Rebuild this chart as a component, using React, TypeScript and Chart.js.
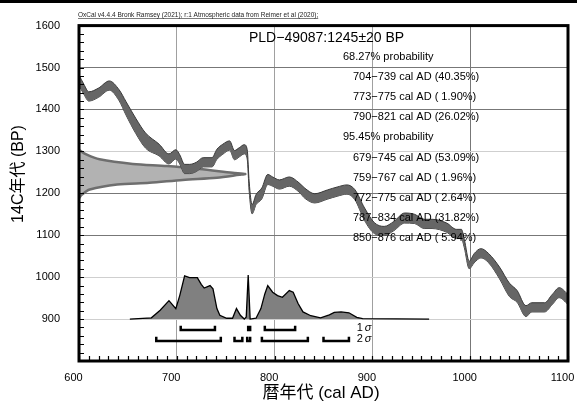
import React, { useEffect, useRef } from 'react';
import { Chart, registerables } from 'chart.js';
Chart.register(...registerables);

// Calibration curve (IntCal20) centre line
const curveYears = [600, 605, 610, 620, 631, 641, 648, 658, 668, 682, 692, 699, 703, 708, 713, 720, 727, 736, 741, 747, 754, 759, 764, 769, 772, 774, 777, 781, 787, 793, 798, 805, 815, 825, 831, 841, 854, 864, 874, 882, 892, 902, 912, 922, 933, 943, 953, 961, 976, 986, 991, 994, 999, 1004, 1011, 1019, 1030, 1040, 1048, 1057, 1063, 1076, 1084, 1091, 1100];
const curveBP = [1470, 1448, 1431, 1440, 1457, 1434, 1403, 1361, 1326, 1303, 1282, 1293, 1281, 1258, 1258, 1263, 1274, 1274, 1293, 1305, 1314, 1291, 1298, 1305, 1293, 1216, 1162, 1185, 1200, 1233, 1228, 1221, 1228, 1214, 1200, 1188, 1197, 1204, 1209, 1197, 1150, 1117, 1110, 1122, 1141, 1139, 1127, 1127, 1118, 1103, 1103, 1080, 1029, 1045, 1057, 1045, 1010, 970, 954, 919, 928, 928, 947, 963, 947];
const curveSigma = [12, 12, 11, 11, 11, 13, 16, 18, 18, 14, 12, 11, 11, 11, 11, 11, 11, 11, 12, 12, 11, 11, 11, 11, 11, 11, 11, 12, 13, 12, 11, 11, 11, 11, 12, 11, 11, 11, 11, 12, 15, 13, 11, 11, 12, 11, 11, 11, 11, 11, 11, 10, 9, 11, 11, 11, 14, 16, 14, 13, 11, 11, 12, 12, 12];

// Radiocarbon date (1245 ± 20 BP) probability on the y axis
const gaussBP = [1303, 1292, 1281, 1270, 1265, 1258, 1249, 1246, 1244, 1237, 1232, 1225, 1221, 1209, 1197, 1188];
const gaussWidth = [0, 8, 21, 55, 90, 123, 157, 170, 164, 141, 106, 72, 39, 11, 3, 0];

// Calibrated date probability (relative height)
const distYears = [652, 674, 683, 692, 699, 703, 708, 713, 718, 721, 725, 728, 734, 737, 741, 744, 751, 757, 761, 765, 769, 771, 773, 775, 781, 786, 790, 793, 798, 803, 808, 815, 819, 824, 829, 837, 847, 856, 861, 868, 876, 884, 890, 958];
const distHeight = [0, 3, 21, 44, 25, 56, 103, 99, 99, 99, 83, 74, 80, 72, 25, 9, 2, 2, 25, 9, 0, 5, 105, 0, 2, 25, 60, 80, 64, 56, 52, 68, 64, 37, 17, 8, 3, 10, 16, 17, 15, 4, 1, 0];

const sigma1Ranges = [[704, 739], [773, 775], [790, 821]];
const sigma2Ranges = [[679, 745], [759, 767], [772, 775], [787, 834], [850, 876]];

const xTicks = [600, 700, 800, 900, 1000, 1100];
const yTicks = [900, 1000, 1100, 1200, 1300, 1400, 1500, 1600];

const headerText = 'OxCal v4.4.4 Bronk Ramsey (2021); r:1 Atmospheric data from Reimer et al (2020);';
const sampleTitle = 'PLD\u221249087:1245\u00b120 BP';
const resultLines = [
  ['68.27% probability', 'h'],
  ['704\u2212739 cal AD (40.35%)', 'r'],
  ['773\u2212775 cal AD ( 1.90%)', 'r'],
  ['790\u2212821 cal AD (26.02%)', 'r'],
  ['95.45% probability', 'h'],
  ['679\u2212745 cal AD (53.09%)', 'r'],
  ['759\u2212767 cal AD ( 1.96%)', 'r'],
  ['772\u2212775 cal AD ( 2.64%)', 'r'],
  ['787\u2212834 cal AD (31.82%)', 'r'],
  ['850\u2212876 cal AD ( 5.94%)', 'r'],
];

const X_MIN = 600, X_MAX = 1100, Y_MIN = 800, Y_MAX = 1600;
const DIST_BASE = 900;
const SIG1_LEVEL = 874, SIG2_LEVEL = 848, BRACKET_TICK = 10;

const FONT = "'Liberation Sans', Arial, 'Noto Sans CJK JP', sans-serif";

const darkY = [1100, 1200, 1400, 1500];

const decoPlugin = {
  id: 'deco',
  afterDraw(chart: any) {
    const { ctx, chartArea: a, scales } = chart;
    const xs = scales.x, ys = scales.y;
    ctx.save();
    // top black bar
    ctx.fillStyle = '#000';
    ctx.fillRect(0, 0, chart.width, 3);

    // minor ticks
    ctx.strokeStyle = '#000';
    ctx.lineWidth = 1.2;
    ctx.beginPath();
    for (let v = Y_MIN; v <= Y_MAX; v += 20) {
      const y = Math.round(ys.getPixelForValue(v)) + 0.5;
      ctx.moveTo(a.left, y);
      ctx.lineTo(a.left + 5, y);
    }
    for (let v = X_MIN; v <= X_MAX; v += 10) {
      const x = Math.round(xs.getPixelForValue(v)) + 0.5;
      ctx.moveTo(x, a.bottom);
      ctx.lineTo(x, a.bottom - 5);
    }
    ctx.stroke();

    // frame
    ctx.lineWidth = 3;
    ctx.strokeRect(a.left, a.top, a.right - a.left, a.bottom - a.top);

    // x tick labels (slightly left of their gridlines, as in OxCal output)
    ctx.fillStyle = '#000';
    ctx.font = `11px ${FONT}`;
    ctx.textAlign = 'center';
    ctx.textBaseline = 'middle';
    for (const v of xTicks) {
      ctx.fillText(String(v), xs.getPixelForValue(v) - 5.5, a.bottom + 17);
    }

    // brackets
    const drawBrackets = (ranges: number[][], level: number) => {
      ctx.lineWidth = 2.5;
      ctx.lineJoin = 'miter';
      ctx.lineCap = 'butt';
      for (const [s, e] of ranges) {
        const x1 = xs.getPixelForValue(s), x2 = xs.getPixelForValue(e);
        const y = ys.getPixelForValue(level);
        const yt = ys.getPixelForValue(level + BRACKET_TICK);
        ctx.beginPath();
        ctx.moveTo(x1, yt);
        ctx.lineTo(x1, y);
        ctx.lineTo(x2, y);
        ctx.lineTo(x2, yt);
        ctx.stroke();
      }
    };
    drawBrackets(sigma1Ranges, SIG1_LEVEL);
    drawBrackets(sigma2Ranges, SIG2_LEVEL);

    ctx.textAlign = 'left';
    const sx = xs.getPixelForValue(880) + 4;
    ctx.font = `11px ${FONT}`;
    ctx.fillText('1', sx, ys.getPixelForValue(SIG1_LEVEL + 4));
    ctx.fillText('2', sx, ys.getPixelForValue(SIG2_LEVEL + 4));
    ctx.font = `italic 11px ${FONT}`;
    ctx.fillText('\u03c3', sx + 8, ys.getPixelForValue(SIG1_LEVEL + 4));
    ctx.fillText('\u03c3', sx + 8, ys.getPixelForValue(SIG2_LEVEL + 4));

    // header
    ctx.font = `6.5px ${FONT}`;
    ctx.fillStyle = '#222';
    ctx.textBaseline = 'alphabetic';
    const hx = a.left - 1, hy = 17;
    ctx.fillText(headerText, hx, hy);
    const hw = ctx.measureText(headerText).width;
    ctx.lineWidth = 0.6;
    ctx.strokeStyle = '#222';
    ctx.beginPath();
    ctx.moveTo(hx, hy + 1.5);
    ctx.lineTo(hx + hw, hy + 1.5);
    ctx.stroke();

    // sample title and result lines
    ctx.fillStyle = '#000';
    ctx.textBaseline = 'middle';
    ctx.font = `14px ${FONT}`;
    ctx.fillText(sampleTitle, a.left + 170, 38);
    ctx.font = `11px ${FONT}`;
    resultLines.forEach(([t, k], i) => {
      const x = k === 'h' ? a.left + 264 : a.left + 274;
      ctx.fillText(t, x, 57 + i * 20.1);
    });

    // axis titles
    ctx.font = `17px ${FONT}`;
    ctx.textAlign = 'center';
    ctx.fillText('\u66a6\u5e74\u4ee3 (cal AD)', 321, 393);
    ctx.save();
    ctx.translate(19, 174);
    ctx.rotate(-Math.PI / 2);
    ctx.font = `16px ${FONT}`;
    ctx.fillText('14C\u5e74\u4ee3 (BP)', 0, 0);
    ctx.restore();

    ctx.restore();
  },
};

export default function App() {
  const ref = useRef<HTMLCanvasElement>(null);
  useEffect(() => {
    document.body.style.margin = '0';
    const canvas = ref.current!;
    const upper = curveYears.map((x, i) => ({ x, y: curveBP[i] + curveSigma[i] }));
    const lower = curveYears.map((x, i) => ({ x, y: curveBP[i] - curveSigma[i] }));
    const gauss = gaussBP.map((y, i) => ({ x: X_MIN + gaussWidth[i], y }));
    const dist = distYears.map((x, i) => ({ x, y: DIST_BASE + distHeight[i] }));

    const chart = new Chart(canvas, {
      type: 'line',
      data: {
        datasets: [
          {
            data: upper, fill: '+1', backgroundColor: '#666666', borderColor: '#3a3a3a',
            borderWidth: 1, pointRadius: 0, cubicInterpolationMode: 'monotone', order: 0,
          },
          {
            data: lower, fill: false, borderColor: '#3a3a3a',
            borderWidth: 1, pointRadius: 0, cubicInterpolationMode: 'monotone', order: 0,
          },
          {
            data: gauss, fill: 'shape', backgroundColor: '#b2b2b2', borderColor: '#6e6e6e',
            borderWidth: 2.5, pointRadius: 0, tension: 0.3, order: 1,
          },
          {
            data: dist, fill: { value: DIST_BASE }, backgroundColor: '#808080', borderColor: '#000',
            borderWidth: 1.3, pointRadius: 0, tension: 0, order: 2,
          },
        ] as any,
      },
      options: {
        animation: false,
        responsive: false,
        devicePixelRatio: 1,
        layout: { padding: { left: 0, right: 9, top: 21, bottom: 0 } },
        plugins: { legend: { display: false }, tooltip: { enabled: false } },
        scales: {
          x: {
            type: 'linear', min: X_MIN, max: X_MAX,
            afterFit: (s: any) => { s.height = 44; s.paddingLeft = 0; s.paddingRight = 0; },
            afterBuildTicks: (s: any) => { s.ticks = xTicks.map((v) => ({ value: v })); },
            ticks: { display: false },
            grid: {
              drawTicks: false,
              color: (c: any) => (c.tick && (c.tick.value === X_MIN || c.tick.value === X_MAX) ? 'rgba(0,0,0,0)' : c.tick && c.tick.value === 1000 ? '#777' : '#a0a0a0'),
              lineWidth: 1,
            },
            border: { display: false },
          },
          y: {
            type: 'linear', min: Y_MIN, max: Y_MAX,
            afterFit: (s: any) => { s.width = 79; },
            afterBuildTicks: (s: any) => { s.ticks = [Y_MIN, ...yTicks].map((v) => ({ value: v })); },
            ticks: {
              color: '#000', font: { size: 11, family: FONT }, padding: 19,
              callback: (v: any) => (v === Y_MIN ? '' : String(v)),
            },
            grid: {
              drawTicks: false,
              color: (c: any) => (c.tick && (c.tick.value === Y_MIN || c.tick.value === Y_MAX) ? 'rgba(0,0,0,0)' : darkY.includes(c.tick && c.tick.value) ? '#777' : '#cfcfcf'),
              lineWidth: 1,
            },
            border: { display: false },
          },
        },
      } as any,
      plugins: [decoPlugin],
    });
    return () => chart.destroy();
  }, []);
  return <canvas ref={ref} width={577} height={405} style={{ display: 'block' }} />;
}
